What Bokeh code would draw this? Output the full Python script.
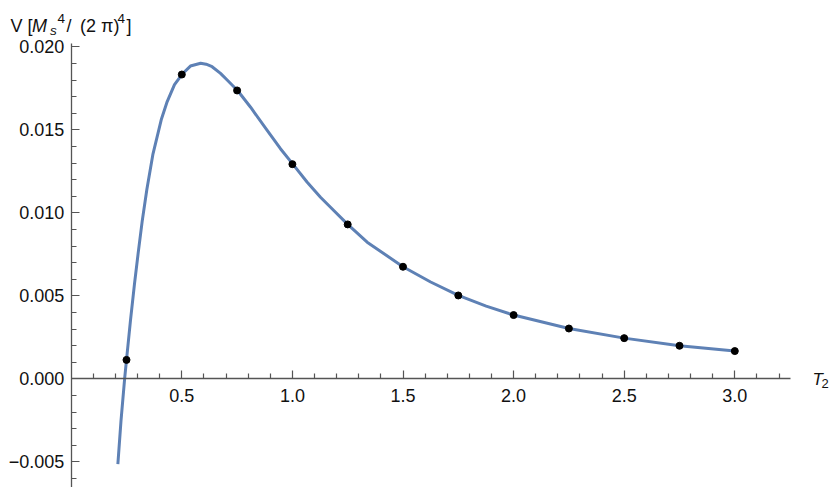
from bokeh.plotting import figure
from bokeh.models import FixedTicker, Label, Range1d
from bokeh.embed import file_html
from bokeh.resources import INLINE

# ---------------- data ----------------
curve_x = [0.211, 0.225, 0.2415, 0.250, 0.268, 0.286, 0.303, 0.321, 0.342, 0.369,
           0.407, 0.434, 0.467, 0.502, 0.539, 0.585, 0.610, 0.637, 0.675, 0.705,
           0.752, 0.811, 0.886, 0.946, 1.002, 1.067, 1.127, 1.187, 1.250, 1.338,
           1.500, 1.625, 1.750, 1.876, 2.000, 2.250, 2.500, 2.750, 3.000]
curve_y = [-0.00514, -0.00255, 0.0, 0.00114, 0.00352, 0.00570, 0.00760, 0.00950, 0.01140, 0.01350,
           0.01560, 0.01670, 0.01772, 0.01836, 0.01884, 0.01901, 0.01895, 0.01880, 0.01840, 0.01800,
           0.01737, 0.01636, 0.01496, 0.01386, 0.01293, 0.01184, 0.01094, 0.01014, 0.00930, 0.00823,
           0.00675, 0.00583, 0.00502, 0.00438, 0.00384, 0.00303, 0.00245, 0.00199, 0.00167]

points_x = [0.25, 0.5, 0.75, 1.0, 1.25, 1.5, 1.75, 2.0, 2.25, 2.5, 2.75, 3.0]
points_y = [0.00114, 0.01833, 0.01737, 0.01293, 0.00930, 0.00675, 0.00502, 0.00384,
            0.00303, 0.00245, 0.00199, 0.00167]

x_ticks = [0.5, 1.0, 1.5, 2.0, 2.5, 3.0]
x_tick_labels = ["0.5", "1.0", "1.5", "2.0", "2.5", "3.0"]
y_ticks = [-0.005, 0.0, 0.005, 0.01, 0.015, 0.02]
y_tick_labels = ["\u22120.005", "0.000", "0.005", "0.010", "0.015", "0.020"]

# ---------------- layout helpers (picture pixel -> data) ----------------
W, H = 830, 487
def px2x(px):
    return (px - 70.7) / 221.2
def px2y(py):
    return (378.3 - py) / 16600.0

p = figure(width=W, height=H, output_backend="svg", toolbar_location=None,
           x_range=Range1d(px2x(0), px2x(W)),
           y_range=Range1d(px2y(H), px2y(0)),
           min_border=0, outline_line_color=None)
p.grid.visible = False
p.background_fill_color = "white"

FONT = "Liberation Sans"
AXC = "#555555"

for ax in (p.xaxis[0], p.yaxis[0]):
    ax.fixed_location = 0
    ax.axis_line_color = AXC
    ax.axis_line_width = 1.3
    ax.major_tick_line_color = AXC
    ax.minor_tick_line_color = AXC
    ax.major_tick_line_width = 1.2
    ax.minor_tick_line_width = 1.2
    ax.major_tick_in = 8
    ax.major_tick_out = 0
    ax.minor_tick_in = 5
    ax.minor_tick_out = 0
    ax.major_label_text_font = FONT
    ax.major_label_text_font_size = "18px"
    ax.major_label_text_color = "#111111"

xminor = [round(0.1 * i, 1) for i in range(1, 33) if i % 5 != 0]
yminor = [round(0.001 * i, 3) for i in range(-6, 21) if i % 5 != 0]
p.xaxis[0].ticker = FixedTicker(ticks=x_ticks, minor_ticks=xminor)
p.yaxis[0].ticker = FixedTicker(ticks=y_ticks, minor_ticks=yminor)
p.xaxis[0].major_label_overrides = dict(zip(x_ticks, x_tick_labels))
p.yaxis[0].major_label_overrides = dict(zip(y_ticks, y_tick_labels))
p.xaxis[0].bounds = (0, 3.252)
p.yaxis[0].bounds = (-0.0066, 0.0202)
p.xaxis[0].major_label_standoff = 10
p.yaxis[0].major_label_standoff = 7

p.line(curve_x, curve_y, line_color="#5E81B5", line_width=3, line_join="round")
p.scatter(points_x, points_y, size=7, fill_color="black", line_color="black")

def lab(text, px, py, size, style="normal"):
    p.add_layout(Label(x=px2x(px), y=px2y(py), text=text, text_font=FONT,
                       text_font_size=size, text_font_style=style,
                       text_color="#111111", text_baseline="alphabetic",
                       text_align="left"))

# y-axis title: V [M_s^4/ (2 pi)^4]
lab("V [", 10, 25.3, "18px")
lab("M", 31.4, 25.3, "18px", "italic")
lab("s", 49.5, 30, "13.5px", "italic")
lab("4", 57, 17.5, "13.5px")
lab("/", 66, 25.3, "18px")
lab("(2 \u03c0)", 79.5, 25.3, "18px")
lab("4", 117, 17.5, "13.5px")
lab("]", 126, 25.3, "18px")

# x-axis title: T_2
lab("T", 812, 379, "17px", "italic")
lab("2", 821, 382.7, "13px")

open("out.html", "w").write(file_html(p, INLINE))
